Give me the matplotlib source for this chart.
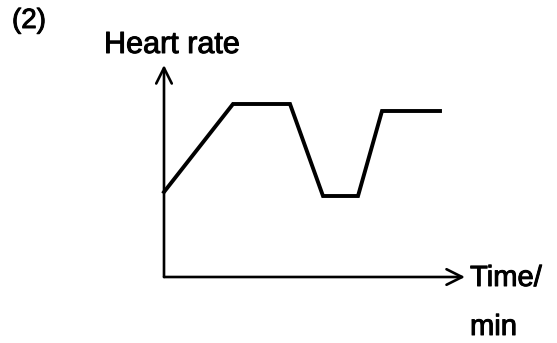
import matplotlib
matplotlib.use("Agg")
import matplotlib.pyplot as plt
import matplotlib.patheffects as pe

# Data (arbitrary units)
time = [0, 69, 126, 159, 194, 218, 276]
heart_rate = [85, 173, 173, 81, 81, 166, 166]
y_label = "Heart rate"
x_label_1 = "Time/"
x_label_2 = "min"
panel = "(2)"

W, H = 557, 343
fig = plt.figure(figsize=(W / 100, H / 100), dpi=100)
fig.patch.set_facecolor("white")

x0, x1 = 164, 465
y0, y1 = 277, 65
ax = fig.add_axes([x0 / W, (H - y0) / H, (x1 - x0) / W, (y0 - y1) / H])
ax.set_xlim(0, x1 - x0)
ax.set_ylim(0, y0 - y1)
ax.axis("off")

ax.plot(time, heart_rate, color="black", lw=2.8, solid_joinstyle="miter", clip_on=False)

# axes with arrows
arrow = dict(arrowstyle="->", color="black", lw=1.9, mutation_scale=28, shrinkA=0, shrinkB=0)
ax.annotate("", xy=(0, 1), xytext=(0, 0), xycoords="axes fraction", arrowprops=arrow)
ax.annotate("", xy=(1, 0), xytext=(0, 0), xycoords="axes fraction", arrowprops=arrow)

font = ["Liberation Sans", "DejaVu Sans"]
thick = [pe.withStroke(linewidth=0.7, foreground="black")]
kw = dict(family=font, va="center", ha="left", path_effects=thick)
fig.text(12 / W, 1 - 21 / H, panel, fontsize=20, **kw)
fig.text(104 / W, 1 - 45 / H, y_label, fontsize=22, **kw)
fig.text(470 / W, 1 - 278 / H, x_label_1, fontsize=21, **kw)
fig.text(470 / W, 1 - 327 / H, x_label_2, fontsize=21, **kw)

fig.savefig("out.png", dpi=100, facecolor="white")
